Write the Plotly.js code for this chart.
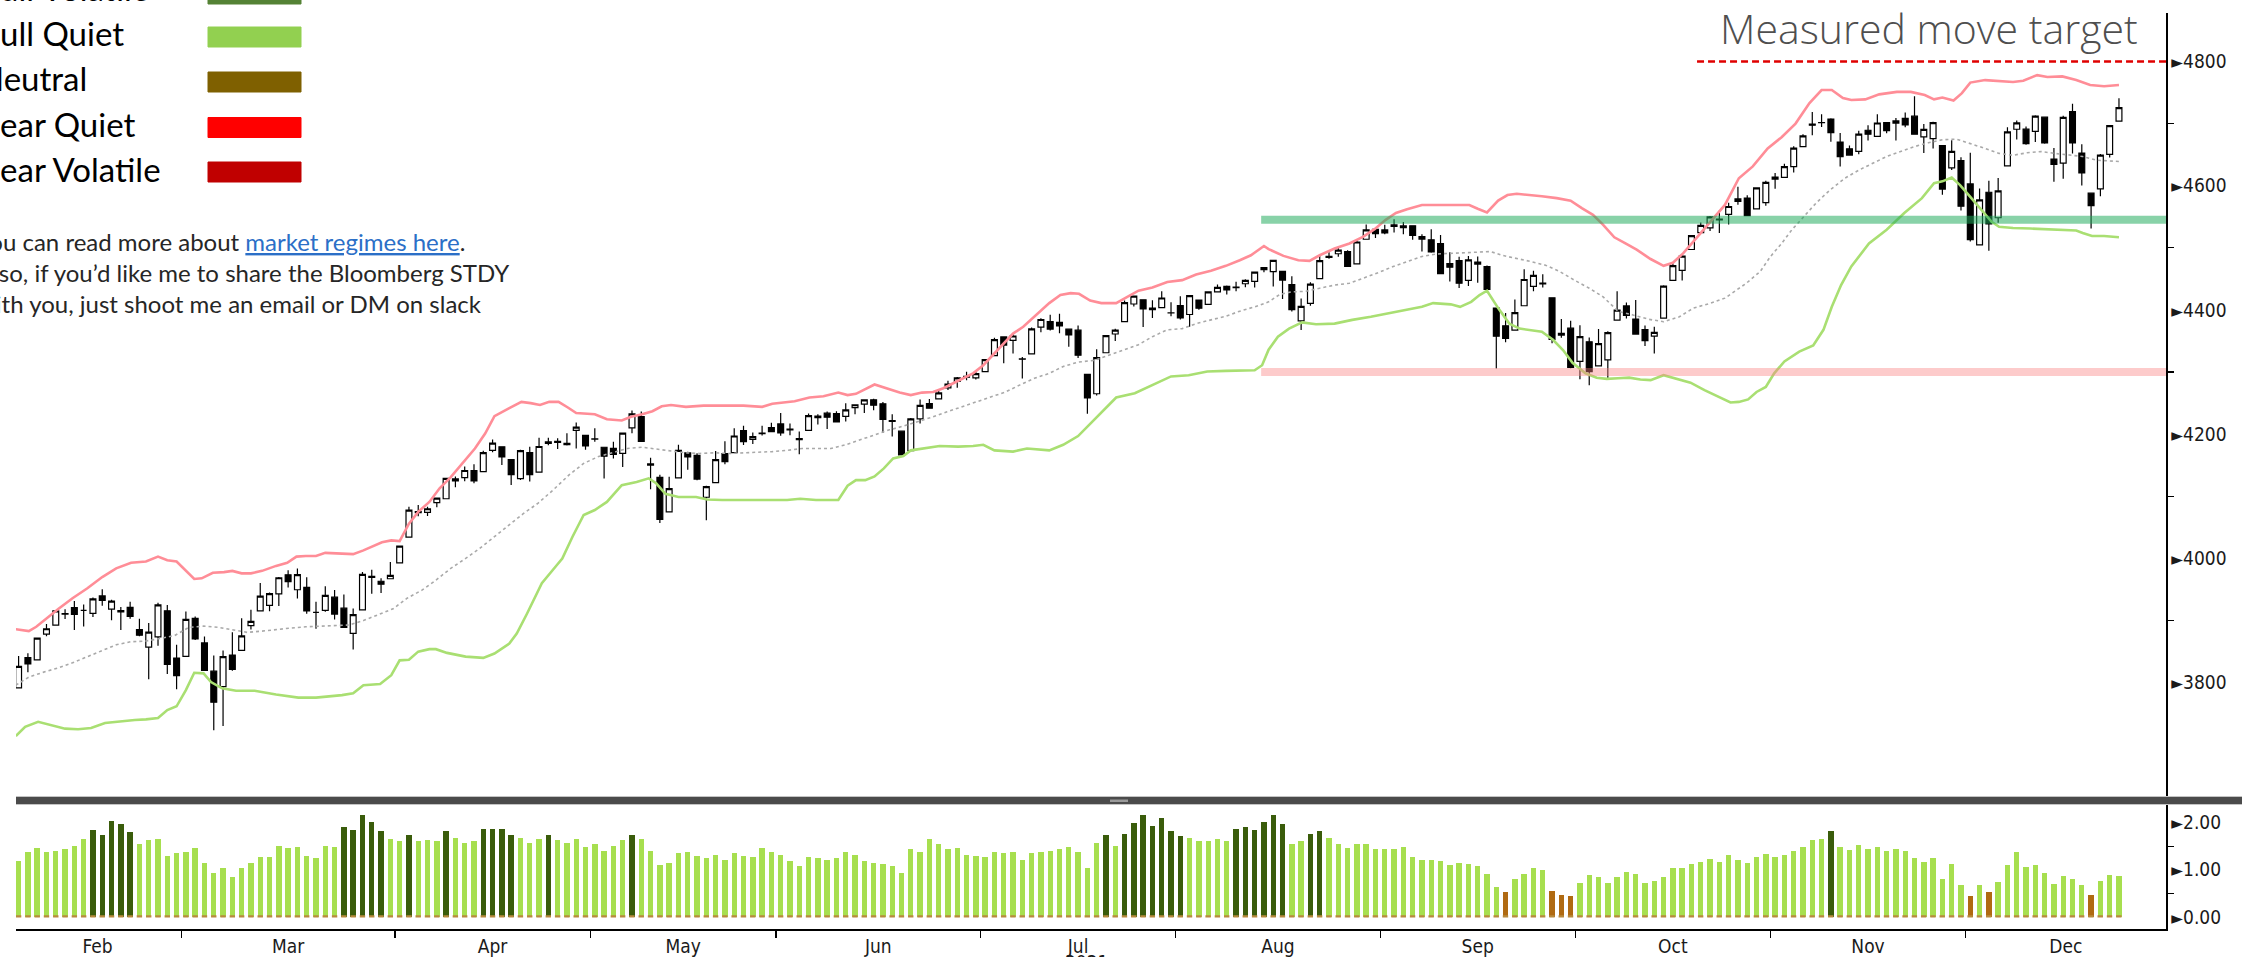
<!DOCTYPE html>
<html>
<head>
<meta charset="utf-8">
<script src="https://cdn.plot.ly/plotly-3.0.1.min.js"></script>
<style>
html,body{margin:0;padding:0;background:#fff;overflow:hidden;}
#chart{width:2242px;height:957px;}
</style>
</head>
<body>
<div id="chart"></div>
<script>
// ---------------- DATA (S&P 500 daily, 2021) ----------------
const dates = ['02-02','02-03','02-04','02-05','02-08','02-09','02-10','02-11','02-12','02-16','02-17','02-18','02-19','02-22','02-23','02-24','02-25','02-26',
'03-01','03-02','03-03','03-04','03-05','03-08','03-09','03-10','03-11','03-12','03-15','03-16','03-17','03-18','03-19','03-22','03-23','03-24','03-25','03-26','03-29','03-30','03-31',
'04-01','04-05','04-06','04-07','04-08','04-09','04-12','04-13','04-14','04-15','04-16','04-19','04-20','04-21','04-22','04-23','04-26','04-27','04-28','04-29','04-30',
'05-03','05-04','05-05','05-06','05-07','05-10','05-11','05-12','05-13','05-14','05-17','05-18','05-19','05-20','05-21','05-24','05-25','05-26','05-27','05-28',
'06-01','06-02','06-03','06-04','06-07','06-08','06-09','06-10','06-11','06-14','06-15','06-16','06-17','06-18','06-21','06-22','06-23','06-24','06-25','06-28','06-29','06-30',
'07-01','07-02','07-06','07-07','07-08','07-09','07-12','07-13','07-14','07-15','07-16','07-19','07-20','07-21','07-22','07-23','07-26','07-27','07-28','07-29','07-30',
'08-02','08-03','08-04','08-05','08-06','08-09','08-10','08-11','08-12','08-13','08-16','08-17','08-18','08-19','08-20','08-23','08-24','08-25','08-26','08-27','08-30','08-31',
'09-01','09-02','09-03','09-07','09-08','09-09','09-10','09-13','09-14','09-15','09-16','09-17','09-20','09-21','09-22','09-23','09-24','09-27','09-28','09-29','09-30',
'10-01','10-04','10-05','10-06','10-07','10-08','10-11','10-12','10-13','10-14','10-15','10-18','10-19','10-20','10-21','10-22','10-25','10-26','10-27','10-28','10-29',
'11-01','11-02','11-03','11-04','11-05','11-08','11-09','11-10','11-11','11-12','11-15','11-16','11-17','11-18','11-19','11-22','11-23','11-24','11-26','11-29','11-30',
'12-01','12-02','12-03','12-06','12-07','12-08','12-09','12-10','12-13','12-14','12-15','12-16','12-17','12-20','12-21','12-22','12-23'];

const open = [3791.8,3840.3,3836.7,3878.3,3892.6,3910.5,3920.8,3916.4,3911.7,3939.6,3918.5,3915.9,3921.2,3885.6,3857.1,3873.7,3915.8,3839.7,
3842.5,3903.6,3864.0,3818.5,3793.6,3844.4,3851.9,3892.0,3915.5,3924.5,3943.0,3973.6,3949.6,3953.5,3913.1,3916.5,3937.6,3919.9,3879.3,3917.1,3969.3,3963.3,3967.3,
3992.8,4034.4,4075.6,4074.3,4090.0,4096.1,4124.7,4130.1,4141.6,4139.8,4174.1,4179.8,4159.2,4128.4,4170.5,4138.8,4185.0,4188.3,4185.1,4206.1,4198.1,
4192.0,4179.0,4177.1,4169.1,4210.3,4228.3,4150.3,4130.6,4075.0,4129.6,4169.9,4165.9,4098.5,4122.0,4168.6,4170.2,4205.9,4191.6,4201.9,4210.8,
4216.5,4206.8,4191.4,4206.1,4229.3,4233.8,4233.0,4228.6,4242.9,4248.3,4255.3,4248.9,4220.4,4204.8,4173.4,4224.6,4249.3,4257.0,4274.5,4284.9,4293.2,4290.7,
4300.7,4326.6,4356.5,4351.0,4321.1,4329.4,4372.4,4381.1,4380.1,4369.0,4367.4,4296.4,4265.1,4331.1,4361.3,4381.2,4409.6,4416.4,4403.0,4403.6,4395.1,
4406.9,4392.7,4416.0,4408.9,4429.1,4437.8,4435.8,4442.2,4446.1,4464.8,4461.7,4462.1,4440.9,4382.4,4410.6,4450.3,4484.4,4490.5,4493.8,4474.1,4513.8,4529.8,
4528.8,4534.5,4532.4,4535.4,4518.1,4513.0,4506.9,4474.8,4479.3,4447.5,4477.1,4469.7,4403.0,4374.5,4367.4,4406.8,4438.0,4442.1,4419.5,4362.4,4370.7,
4317.2,4348.8,4309.9,4319.6,4383.7,4406.5,4385.4,4368.3,4358.0,4386.8,4447.7,4463.7,4497.3,4524.4,4532.2,4546.1,4553.7,4578.7,4580.2,4562.8,4572.9,
4610.6,4613.3,4630.7,4662.9,4699.3,4701.5,4707.3,4670.3,4659.4,4655.2,4689.3,4679.4,4701.5,4700.7,4708.4,4712.0,4678.5,4675.8,4664.6,4628.8,4640.3,
4602.8,4504.7,4589.5,4548.4,4632.0,4690.9,4691.0,4687.6,4710.3,4643.0,4636.5,4719.1,4652.5,4587.9,4595.0,4650.4,4704.0];

const high = [3843.1,3847.5,3872.4,3894.6,3915.8,3918.4,3931.5,3926.0,3937.2,3950.4,3933.6,3922.0,3930.4,3902.9,3896.0,3928.7,3925.0,3861.1,
3914.5,3906.4,3874.5,3843.7,3851.7,3881.1,3903.8,3917.4,3960.3,3945.0,3970.1,3981.0,3983.9,3969.6,3930.1,3955.3,3949.1,3942.1,3919.5,3978.2,3981.8,3968.0,3994.4,
4020.6,4083.4,4086.2,4083.1,4098.2,4129.5,4131.8,4148.0,4151.7,4173.5,4191.3,4180.8,4159.2,4175.0,4179.6,4194.2,4194.2,4193.4,4201.5,4218.8,4198.1,
4209.4,4179.0,4187.7,4202.7,4238.0,4236.4,4162.0,4134.7,4131.6,4183.1,4171.9,4169.2,4116.9,4172.8,4188.7,4209.5,4213.4,4202.6,4213.4,4218.4,
4234.1,4217.4,4204.4,4233.5,4232.3,4236.7,4237.1,4249.7,4248.4,4255.6,4257.2,4251.9,4232.3,4204.8,4226.2,4255.8,4256.6,4271.3,4286.1,4292.1,4300.5,4302.4,
4320.7,4355.4,4356.5,4361.9,4324.3,4371.6,4386.7,4392.4,4393.7,4369.0,4375.1,4296.4,4336.8,4359.7,4369.9,4415.2,4422.7,4416.4,4415.5,4430.0,4412.3,
4422.2,4423.8,4416.2,4429.8,4440.8,4439.4,4445.2,4449.4,4461.8,4468.4,4480.3,4462.1,4454.3,4418.6,4444.4,4489.9,4492.8,4501.7,4495.9,4513.3,4537.4,4531.4,
4537.1,4545.9,4541.5,4535.4,4521.8,4529.9,4520.5,4493.0,4485.7,4486.9,4485.9,4471.4,4403.0,4394.9,4416.8,4465.4,4463.1,4457.3,4419.5,4385.6,4382.6,
4375.2,4355.5,4369.2,4365.6,4430.0,4412.0,4415.9,4374.9,4372.9,4439.7,4475.8,4488.8,4520.4,4540.9,4551.4,4559.7,4572.6,4598.5,4584.6,4597.6,4608.1,
4620.3,4635.2,4663.5,4683.0,4718.5,4714.9,4708.5,4684.9,4664.6,4688.5,4697.4,4715.0,4701.5,4708.8,4717.8,4743.8,4699.4,4702.9,4664.6,4673.0,4646.0,
4652.9,4595.5,4608.0,4612.6,4694.0,4705.1,4695.3,4713.6,4710.3,4660.5,4712.6,4732.0,4666.7,4587.9,4651.1,4697.7,4740.7];

const low = [3791.8,3816.7,3836.7,3874.9,3892.6,3902.6,3884.9,3890.4,3905.8,3923.9,3900.4,3885.0,3903.1,3874.7,3805.6,3859.6,3814.0,3789.5,
3842.5,3868.6,3818.9,3723.3,3730.2,3819.3,3851.9,3885.7,3915.5,3915.2,3923.5,3953.4,3935.7,3910.9,3886.8,3914.2,3901.6,3889.1,3853.5,3917.1,3943.3,3944.4,3967.0,
3992.8,4034.4,4068.1,4068.3,4082.5,4095.5,4114.8,4124.4,4120.9,4139.8,4170.8,4150.5,4118.4,4126.4,4123.7,4138.8,4182.4,4176.2,4181.8,4176.8,4174.9,
4188.0,4128.6,4160.9,4147.3,4201.6,4188.1,4111.5,4056.9,4075.0,4129.6,4142.7,4126.0,4061.4,4122.0,4151.7,4170.2,4182.5,4184.1,4197.8,4203.6,
4197.6,4198.3,4167.9,4206.1,4215.7,4208.4,4218.7,4220.3,4232.3,4234.1,4238.4,4202.5,4196.1,4164.4,4173.4,4217.3,4241.4,4257.0,4271.2,4274.7,4287.0,4288.0,
4300.7,4326.6,4314.4,4329.8,4289.5,4329.4,4364.0,4366.9,4362.4,4340.7,4322.5,4233.1,4262.1,4331.1,4350.1,4381.2,4405.5,4372.5,4387.0,4403.6,4389.7,
4384.8,4373.0,4400.2,4408.9,4429.1,4424.7,4430.0,4436.4,4436.0,4460.8,4437.7,4417.8,4397.6,4367.7,4406.8,4450.3,4482.3,4485.7,4469.0,4474.1,4513.8,4515.8,
4522.0,4524.7,4521.7,4513.0,4494.0,4492.1,4457.7,4445.7,4435.5,4438.4,4443.8,4427.8,4305.9,4348.0,4367.4,4406.8,4430.3,4436.2,4346.3,4355.1,4306.2,
4288.5,4278.9,4309.9,4290.5,4383.7,4386.2,4360.6,4342.1,4329.9,4386.8,4447.7,4447.5,4496.4,4524.4,4526.9,4524.0,4537.4,4569.2,4551.7,4562.8,4567.6,
4595.1,4613.3,4621.2,4662.6,4681.3,4694.4,4670.9,4630.9,4648.3,4650.8,4672.9,4679.4,4684.4,4672.8,4694.2,4682.2,4652.7,4659.9,4585.4,4625.3,4560.0,
4510.3,4504.7,4495.1,4540.5,4632.0,4674.5,4666.0,4670.2,4667.6,4606.5,4611.2,4651.9,4600.2,4531.1,4583.2,4645.5,4704.0];

const close = [3826.3,3830.2,3871.7,3886.8,3915.6,3911.2,3909.9,3916.4,3934.8,3932.6,3931.3,3914.0,3906.7,3876.5,3881.4,3925.4,3829.3,3811.2,
3901.8,3870.3,3819.7,3768.5,3841.9,3821.4,3875.4,3898.8,3939.3,3943.3,3968.9,3962.7,3974.1,3915.5,3913.1,3940.6,3910.5,3889.1,3909.5,3974.5,3971.1,3958.6,3972.9,
4019.9,4077.9,4073.9,4080.0,4097.2,4128.8,4128.0,4141.6,4124.7,4170.4,4185.5,4163.3,4134.9,4173.4,4135.0,4180.2,4187.6,4186.7,4183.2,4211.5,4181.2,
4192.7,4164.7,4167.6,4201.6,4232.6,4188.4,4152.1,4063.0,4112.5,4173.9,4163.3,4127.8,4115.7,4159.1,4155.9,4197.1,4188.1,4196.0,4200.9,4204.1,
4202.0,4208.1,4192.9,4229.9,4226.5,4227.3,4219.6,4239.2,4247.4,4255.2,4246.6,4223.7,4221.9,4166.5,4224.8,4246.4,4241.8,4266.5,4280.7,4290.6,4291.8,4297.5,
4319.9,4352.3,4343.5,4358.1,4320.8,4369.6,4384.6,4369.2,4374.3,4360.0,4327.2,4258.5,4323.1,4358.7,4367.5,4411.8,4422.3,4401.5,4400.6,4419.2,4395.3,
4387.2,4423.2,4402.7,4429.1,4436.5,4432.4,4436.8,4447.7,4460.8,4468.0,4479.7,4448.1,4400.3,4405.8,4441.7,4479.5,4486.2,4496.2,4470.0,4509.4,4528.8,4522.7,
4524.1,4537.0,4535.4,4520.0,4514.1,4493.3,4458.6,4468.7,4443.1,4480.7,4473.8,4433.0,4357.7,4354.2,4395.6,4449.0,4455.5,4443.1,4352.6,4359.5,4307.5,
4357.0,4300.5,4345.7,4363.6,4399.8,4391.3,4361.2,4350.7,4363.8,4438.3,4471.4,4486.5,4519.6,4536.2,4549.8,4544.9,4566.5,4574.8,4551.7,4596.4,4605.4,
4613.7,4630.7,4660.6,4680.1,4697.5,4701.7,4685.3,4646.7,4649.3,4682.9,4682.8,4700.9,4688.7,4704.5,4698.0,4682.9,4690.7,4701.5,4594.6,4655.3,4567.0,
4513.0,4577.1,4538.4,4591.7,4686.8,4701.2,4667.5,4712.0,4669.0,4634.1,4709.9,4668.7,4620.6,4568.0,4649.2,4696.6,4725.8];

// Bands at day-index positions
const upperX = [-0.3,1.1,1.9,3.1,4.3,5.8,7.4,9.0,10.5,12.1,13.7,15.0,16.0,17.0,18.0,18.9,19.7,20.9,22.1,23.0,24.0,25.0,26.2,27.7,28.9,29.9,30.9,32.0,33.0,34.6,36.0,37.1,37.9,39.1,40.1,41.0,42.0,43.0,44.2,45.3,46.5,47.9,49.1,50.2,51.2,52.8,54.1,55.1,56.1,57.1,58.1,59.1,60.0,62.0,63.3,64.9,65.9,67.1,68.2,69.2,70.2,71.8,73.7,75.7,78.0,80.0,81.1,83.5,85.1,86.6,88.2,89.2,90.1,92.1,93.3,94.8,96.0,97.2,98.4,99.5,101.1,102.7,103.8,105.4,107.0,108.1,109.7,110.9,112.1,113.2,114.1,115.3,116.5,118.1,119.3,120.5,122.0,123.6,125.2,126.7,128.3,129.9,131.4,132.6,134.0,134.5,136.1,137.7,138.9,140.0,141.6,143.2,144.7,145.9,147.1,148.2,149.4,151.0,152.5,154.1,156.1,157.0,158.0,159.2,160.2,161.2,162.7,163.9,165.5,167.0,168.2,169.4,170.5,171.7,172.9,174.1,175.6,177.0,178.0,179.1,180.2,181.4,182.5,183.6,185.1,186.6,188.2,189.7,191.2,192.7,194.0,195.1,196.3,197.2,198.7,200.2,202.1,203.6,205.1,206.1,207.0,208.2,209.1,210.0,211.6,213.1,214.6,215.7,217.2,218.3,219.9,221.4,222.9,224.4,226.0];
const upperY = [3886,3883,3890,3905,3919,3936,3952,3970,3984,3993,3995,4003,3997,3995,3980,3967,3968,3977,3978,3980,3976,3976,3980,3988,3993,4003,4004,4004,4009,4008,4007,4013,4018,4026,4029,4028,4056,4075,4091,4113,4131,4155,4177,4201,4229,4242,4252,4250,4247,4252,4252,4243,4234,4232,4224,4222,4228,4232,4237,4245,4247,4244,4246,4246,4246,4244,4249,4253,4259,4261,4267,4263,4265,4280,4274,4267,4263,4267,4268,4274,4286,4298,4311,4336,4362,4373,4395,4411,4424,4427,4426,4415,4411,4411,4421,4431,4436,4445,4448,4457,4463,4471,4480,4488,4503,4498,4487,4480,4479,4488,4499,4507,4518,4530,4545,4556,4562,4569,4569,4569,4569,4563,4557,4576,4585,4587,4585,4583,4580,4576,4564,4553,4537,4517,4507,4497,4482,4471,4476,4491,4510,4531,4550,4569,4612,4631,4660,4678,4700,4733,4754,4754,4741,4738,4739,4747,4751,4751,4746,4739,4742,4737,4749,4766,4770,4769,4767,4769,4778,4775,4776,4770,4762,4760,4762];

const lowerX = [-0.3,0.7,2.1,3.5,5.0,6.4,7.8,9.3,10.9,12.5,13.7,15.0,16.0,17.0,18.0,18.9,19.9,20.7,21.9,23.4,25.4,27.7,30.1,32.0,34.8,36.0,37.1,38.9,40.1,41.0,42.0,43.0,44.2,44.9,46.1,48.1,50.0,51.2,52.8,53.6,54.7,56.3,57.9,58.5,59.6,60.8,62.0,63.3,64.9,66.5,67.8,68.6,69.6,71.0,72.9,74.1,75.7,78.0,80.4,82.7,84.1,85.8,88.2,89.2,90.1,91.1,92.1,93.1,94.1,95.2,96.0,97.6,99.1,101.1,102.7,103.8,105.0,107.0,108.5,110.9,112.4,114.0,115.3,116.5,118.1,120.1,122.0,124.0,125.9,127.9,129.9,131.4,133.0,133.8,134.5,135.5,136.7,138.1,139.6,141.6,143.5,145.5,147.5,149.4,151.0,152.2,154.1,155.1,156.3,157.2,158.0,159.2,160.4,161.5,162.7,163.9,165.1,166.2,167.2,168.6,169.8,170.9,172.1,173.3,174.5,175.6,177.0,178.3,179.9,181.4,182.9,184.2,185.1,186.1,187.0,188.0,188.9,190.0,191.6,193.1,194.2,195.1,196.1,197.2,199.1,201.0,202.9,204.8,206.1,207.0,208.0,208.9,210.0,211.2,212.3,213.1,214.6,216.5,218.3,219.9,221.4,222.1,223.1,224.4,226.0];
const lowerY = [3714,3729,3737,3732,3726,3725,3727,3735,3738,3740,3741,3743,3756,3762,3788,3816,3815,3801,3791,3787,3787,3781,3776,3776,3780,3783,3796,3798,3812,3836,3837,3850,3854,3854,3848,3842,3840,3847,3863,3879,3911,3960,3989,4000,4035,4070,4078,4091,4118,4123,4129,4121,4104,4099,4099,4095,4094,4094,4094,4094,4096,4094,4094,4117,4126,4126,4132,4145,4161,4165,4174,4177,4181,4180,4181,4183,4174,4172,4177,4174,4183,4197,4217,4236,4259,4266,4279,4293,4295,4301,4302,4303,4303,4311,4336,4357,4370,4380,4377,4378,4384,4389,4395,4400,4405,4411,4409,4405,4413,4424,4431,4403,4378,4370,4368,4365,4352,4335,4315,4298,4291,4289,4290,4291,4288,4287,4295,4290,4283,4271,4260,4251,4252,4256,4268,4276,4298,4317,4333,4343,4368,4405,4440,4470,4507,4529,4556,4580,4604,4607,4613,4601,4582,4561,4542,4534,4532,4531,4530,4529,4528,4524,4519,4519,4517];

const midX = [-0.3,1.1,2.7,4.3,5.8,7.4,9.0,10.5,12.1,13.7,15.2,16.8,18.3,19.9,21.5,23.0,24.6,26.2,27.7,29.3,30.9,32.4,34.0,35.6,37.1,38.7,40.3,41.8,43.4,44.9,46.5,48.1,49.6,51.2,52.8,54.3,55.9,57.5,59.2,60.8,62.4,63.9,65.5,67.1,68.6,70.2,71.8,73.3,74.9,76.4,78.0,79.6,81.1,82.7,84.3,85.8,87.4,89.0,90.5,92.1,93.7,95.2,96.8,98.4,99.9,101.5,103.1,104.6,106.2,107.7,109.3,110.9,112.4,114.0,115.8,117.3,118.9,120.5,122.0,123.6,125.2,126.7,128.3,129.9,131.4,133.0,134.5,135.7,136.9,138.5,140.0,141.6,143.2,144.7,146.3,147.9,149.4,151.0,152.5,154.1,155.7,157.2,158.4,159.6,161.2,162.7,164.3,165.8,167.4,169.0,170.5,172.1,173.7,175.4,177.0,178.7,180.2,182.1,183.6,184.8,185.9,187.4,188.5,189.7,190.8,191.9,193.4,194.9,196.5,198.0,199.5,201.0,202.5,204.0,205.5,207.0,208.5,210.0,211.6,213.1,214.6,216.1,217.6,219.1,220.6,222.1,223.6,226.0];
const midY = [3796,3809,3817,3824,3832,3842,3852,3861,3866,3867,3871,3876,3889,3891,3889,3885,3881,3883,3886,3888,3890,3891,3893,3893,3900,3910,3919,3936,3949,3965,3984,4000,4016,4035,4054,4072,4089,4110,4134,4153,4164,4170,4177,4179,4176,4173,4170,4169,4170,4169,4170,4170,4172,4174,4177,4177,4177,4183,4191,4199,4207,4213,4220,4228,4236,4244,4252,4260,4268,4279,4290,4298,4309,4316,4319,4327,4335,4344,4357,4368,4370,4378,4384,4390,4398,4405,4413,4425,4429,4430,4435,4440,4443,4451,4460,4470,4478,4486,4490,4491,4492,4494,4494,4488,4483,4478,4472,4462,4448,4435,4421,4398,4392,4385,4381,4389,4403,4411,4419,4432,4443,4462,4486,4507,4529,4547,4572,4593,4612,4625,4636,4647,4655,4663,4669,4674,4675,4668,4660,4652,4649,4653,4655,4652,4649,4647,4641,4639];

// Regime indicator (lower panel)
const regimeScore = [
1.19,1.37,1.46,1.37,1.40,1.43,1.51,1.65,1.85,1.74,2.04,1.96,1.80,1.54,1.63,1.65,1.30,1.35,
1.37,1.46,1.15,0.94,1.04,0.84,1.04,1.15,1.27,1.27,1.51,1.46,1.49,1.30,1.24,1.51,1.49,1.90,1.85,2.15,2.01,1.82,1.65,
1.60,1.74,1.60,1.63,1.60,1.82,1.68,1.57,1.60,1.87,1.87,1.87,1.74,1.68,1.57,1.65,1.74,1.63,1.57,1.65,1.49,
1.54,1.40,1.51,1.63,1.74,1.65,1.40,1.10,1.15,1.35,1.37,1.30,1.24,1.32,1.21,1.35,1.30,1.27,1.46,1.37,
1.32,1.18,1.07,1.27,1.24,1.21,1.24,1.37,1.32,1.18,1.15,1.13,1.07,0.94,1.43,1.37,1.65,1.54,1.43,1.46,1.32,1.30,
1.27,1.37,1.35,1.37,1.21,1.35,1.37,1.40,1.43,1.49,1.37,1.04,1.57,1.74,1.51,1.76,1.99,2.15,1.93,2.09,1.82,
1.71,1.68,1.60,1.60,1.65,1.60,1.87,1.90,1.85,2.01,2.15,1.96,1.54,1.60,1.76,1.82,1.68,1.54,1.46,1.54,1.54,1.43,
1.43,1.43,1.49,1.27,1.21,1.21,1.18,1.10,1.15,1.13,1.07,0.91,0.63,0.52,0.80,0.91,1.04,0.99,0.55,0.46,0.44,
0.72,0.88,0.85,0.72,0.85,0.96,0.91,0.72,0.77,0.85,1.04,1.04,1.12,1.17,1.22,1.17,1.31,1.20,1.15,1.28,1.34,
1.28,1.31,1.39,1.48,1.62,1.65,1.82,1.48,1.41,1.52,1.44,1.48,1.39,1.44,1.39,1.25,1.17,1.25,0.81,1.12,0.68,
0.45,0.68,0.53,0.74,1.10,1.37,1.06,1.10,0.93,0.70,0.86,0.81,0.68,0.47,0.76,0.89,0.86];
// Q = Bull Quiet, V = Bull Volatile, N = Neutral (run lengths)
const regimeRuns = [['Q',8],['V',5],['Q',22],['V',5],['Q',2],['V',1],['Q',3],['V',1],['Q',3],['V',4],['Q',3],['V',1],['Q',8],['V',1],['Q',50],['V',1],['Q',1],['V',7],['Q',5],['V',6],['Q',2],['V',2],['Q',19],['N',1],['Q',4],['N',3],['Q',27],['V',1],['Q',14],['N',1],['Q',1],['N',1],['Q',10],['N',1],['Q',3]];

const legendNames = ['Bull Volatile','Bull Quiet','Neutral','Bear Quiet','Bear Volatile'];
const legendColors = ['#548235','#92d050','#7f6000','#ff0000','#c00000'];
const priceTicks = [3800,4000,4200,4400,4600,4800];
const priceMinor = [3900,4100,4300,4500,4700];
const scoreTicks = [0,1,2];
const scoreMinor = [0.5,1.5];
const monthNames = {'02':'Feb','03':'Mar','04':'Apr','05':'May','06':'Jun','07':'Jul','08':'Aug','09':'Sep','10':'Oct','11':'Nov','12':'Dec'};
const targetLevel = 4800, resistanceLevel = 4545, supportLevel = 4300;
const zoneStartIdx = 133.7, targetStartIdx = 180.6;

// ---------------- checks ----------------
const N = dates.length;
[open,high,low,close,regimeScore].forEach((a,k)=>{ if(a.length!==N) throw new Error('length mismatch '+k+': '+a.length+' vs '+N); });
[[upperX,upperY],[lowerX,lowerY],[midX,midY]].forEach((p,k)=>{ if(p[0].length!==p[1].length) throw new Error('band mismatch '+k+': '+p[0].length+' vs '+p[1].length); });
const regimeCodes = [];
regimeRuns.forEach(([c,n])=>{ for(let i=0;i<n;i++) regimeCodes.push(c); });
if(regimeCodes.length!==N) throw new Error('regime length '+regimeCodes.length);

// ---------------- layout geometry (pixels) ----------------
const W=2242, H=957, ML=16, MR=76, MT=13, MB=28;
const PW=W-ML-MR, PH=H-MT-MB;
const px = v => (v-ML)/PW;
const py = v => (H-MB-v)/PH;
const xRange = [-0.28, 231.06];
const unitPx = PW/(xRange[1]-xRange[0]);
const barW = 0.58;

const xIdx = dates.map((d,i)=>i);
const regimeColor = {Q:'#a7df4f', V:'#3a5c0b', N:'#b06a12'};

// month ticks
const bounds = [];
for(let i=1;i<N;i++){ if(dates[i].slice(0,2)!==dates[i-1].slice(0,2)) bounds.push(i-0.5); }
const edges = [-0.5].concat(bounds).concat([xRange[1]]);
const monthList = [dates[0].slice(0,2)];
for(let i=1;i<N;i++){ const m=dates[i].slice(0,2); if(m!==monthList[monthList.length-1]) monthList.push(m); }
const monthCenters = monthList.map((m,k)=>(edges[k]+edges[k+1])/2);
const monthText = monthList.map(m=>monthNames[m]);

const tickFont = {family:'"Liberation Sans Narrow","DejaVu Sans Condensed","Arial Narrow","Liberation Sans",sans-serif', size:19, color:'#1a1a1a'};
const arrow = t => '<span style="font-size:17px">►</span>'+t;

const traces = [
  {type:'scatter', mode:'lines', x:midX, y:midY, xaxis:'x', yaxis:'y', line:{color:'#a9a9a9', width:1.6, dash:'dot'}, hoverinfo:'skip'},
  {type:'scatter', mode:'lines', x:upperX, y:upperY, xaxis:'x', yaxis:'y', line:{color:'#ff8d97', width:2.6}, hoverinfo:'skip'},
  {type:'scatter', mode:'lines', x:lowerX, y:lowerY, xaxis:'x', yaxis:'y', line:{color:'#a9df72', width:2.6}, hoverinfo:'skip'},
  {type:'candlestick', x:xIdx, open:open, high:high, low:low, close:close, xaxis:'x', yaxis:'y',
   increasing:{line:{color:'#000', width:1.2}, fillcolor:'#ffffff'},
   decreasing:{line:{color:'#000', width:1.2}, fillcolor:'#000000'},
   whiskerwidth:0, text:dates, hoverinfo:'skip'},
  {type:'bar', x:xIdx, y:regimeScore, xaxis:'x2', yaxis:'y2', width:barW,
   marker:{color:regimeCodes.map(c=>regimeColor[c]), line:{width:0}}, hoverinfo:'skip'}
];

const shapes = [
  // support / resistance zones and target
  {type:'line', xref:'x', yref:'y', x0:zoneStartIdx, x1:xRange[1], y0:resistanceLevel, y1:resistanceLevel, line:{color:'rgba(30,170,90,0.53)', width:8}, layer:'above'},
  {type:'line', xref:'x', yref:'y', x0:zoneStartIdx, x1:xRange[1], y0:supportLevel, y1:supportLevel, line:{color:'rgba(250,130,130,0.42)', width:8}, layer:'above'},
  {type:'line', xref:'x', yref:'y', x0:targetStartIdx, x1:xRange[1], y0:targetLevel, y1:targetLevel, line:{color:'#e00000', width:2.4, dash:'7px,4px'}, layer:'above'},
  // panel separator
  {type:'rect', xref:'paper', yref:'paper', x0:px(ML), x1:px(W), y0:py(804), y1:py(797), fillcolor:'#4b4b4b', line:{width:0}, layer:'above'},
  {type:'line', xref:'paper', yref:'paper', x0:px(ML), x1:px(W), y0:py(796.5), y1:py(796.5), line:{color:'#c4c4c4', width:1}, layer:'above'},
  {type:'line', xref:'paper', yref:'paper', x0:px(ML), x1:px(W), y0:py(804.5), y1:py(804.5), line:{color:'#c4c4c4', width:1}, layer:'above'},
  {type:'rect', xref:'paper', yref:'paper', x0:px(1110), x1:px(1128), y0:py(802), y1:py(799.5), fillcolor:'#9a9a9a', line:{width:0}, layer:'above'},
  // brown base marks of the regime bars
  {type:'line', xref:'x2', yref:'y2', x0:-barW/2, x1:N-1+barW/2, y0:0.015, y1:0.015,
   line:{color:'#b98a3e', width:2.2, dash:(barW*unitPx).toFixed(3)+'px,'+((1-barW)*unitPx).toFixed(3)+'px'}, layer:'above'}
];

// legend swatches
const swatchCenters = [-6, 37, 82, 127.5, 172];
legendColors.forEach((c,k)=>{
  shapes.push({type:'rect', xref:'paper', yref:'paper', x0:px(208), x1:px(301), y0:py(swatchCenters[k]+10), y1:py(swatchCenters[k]-10), fillcolor:c, line:{color:c, width:1}, layer:'above'});
});

const annotations = [];
const labelCenters = [-12, 33, 78, 124, 169];
legendNames.forEach((n,k)=>{
  annotations.push({xref:'paper', yref:'paper', x:px(-23), y:py(labelCenters[k]), xanchor:'left', yanchor:'middle', showarrow:false,
    text:n, font:{family:'Lato, "Noto Sans", sans-serif', size:33, color:'#000'}});
});
annotations.push({xref:'paper', yref:'paper', x:px(-25), y:py(272), xanchor:'left', yanchor:'middle', align:'left', showarrow:false,
  text:'You can read more about <span style="color:#2b6fc7"><u>market regimes here</u></span>.<br>Also, if you’d like me to share the Bloomberg STDY<br>with you, just shoot me an email or DM on slack',
  font:{family:'Lato, "Noto Sans", sans-serif', size:24, color:'#262626'}});
annotations.push({xref:'paper', yref:'paper', x:px(1929), y:py(28), xanchor:'center', yanchor:'middle', showarrow:false,
  text:'Measured move target', font:{family:'"Open Sans","Noto Sans", sans-serif', size:41, weight:300, color:'#4f4f4f'}});
annotations.push({xref:'x2', yref:'paper', x:monthCenters[monthText.indexOf('Jul')]+1, y:py(949.5), xanchor:'center', yanchor:'top', showarrow:false,
  text:'2021', font:tickFont});

const layout = {
  width:W, height:H, autosize:false,
  margin:{l:ML, r:MR, t:MT, b:MB, pad:0},
  paper_bgcolor:'#ffffff', plot_bgcolor:'#ffffff',
  showlegend:false, hovermode:false,
  boxgap:0.37, boxgroupgap:0,
  bargap:0,
  xaxis:{domain:[0,1], anchor:'y', range:xRange, showticklabels:false, ticks:'', showgrid:false, zeroline:false, showline:false, rangeslider:{visible:false}, fixedrange:true},
  yaxis:{domain:[py(797),1], anchor:'x', side:'right', range:[3616,4878], showgrid:false, zeroline:false,
    showline:true, linecolor:'#000', linewidth:1.5, tickmode:'array', tickvals:priceTicks, ticktext:priceTicks.map(v=>arrow(String(v))),
    ticks:'', tickfont:tickFont, ticklabelstandoff:0,
    minor:{tickmode:'array', tickvals:priceMinor, ticks:'outside', ticklen:6, tickwidth:1.2, tickcolor:'#000'}},
  xaxis2:{domain:[0,1], anchor:'y2', range:xRange, showgrid:false, zeroline:false, showline:true, linecolor:'#000', linewidth:1.5,
    tickmode:'array', tickvals:monthCenters, ticktext:monthText, ticks:'', tickfont:tickFont,
    minor:{tickmode:'array', tickvals:bounds, ticks:'outside', ticklen:7, tickwidth:1.2, tickcolor:'#000'}},
  yaxis2:{domain:[0,py(805)], anchor:'x2', side:'right', range:[-0.254,2.37], showgrid:false, zeroline:false,
    showline:true, linecolor:'#000', linewidth:1.5, tickmode:'array', tickvals:scoreTicks, ticktext:scoreTicks.map(v=>arrow(v.toFixed(2))),
    ticks:'', tickfont:tickFont, ticklabelstandoff:0,
    minor:{tickmode:'array', tickvals:scoreMinor, ticks:'outside', ticklen:6, tickwidth:1.2, tickcolor:'#000'}},
  shapes:shapes,
  annotations:annotations
};

Plotly.newPlot('chart', traces, layout, {displayModeBar:false, staticPlot:true});
</script>
</body>
</html>
